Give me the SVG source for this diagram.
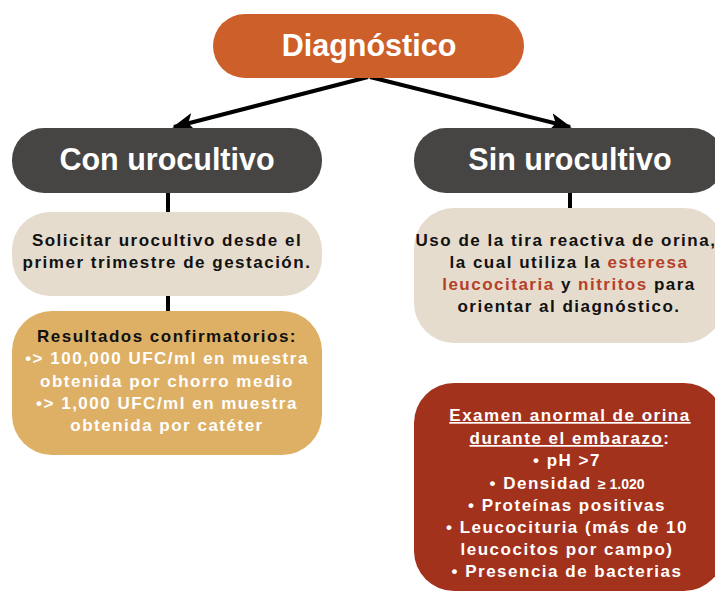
<svg xmlns="http://www.w3.org/2000/svg" width="715" height="593" viewBox="0 0 715 593">
<style>
.t{font-family:"Liberation Sans",Arial,sans-serif;font-weight:bold;text-anchor:middle}
.h{font-size:30.5px;fill:#fff}
.b{font-size:17px;fill:#111;letter-spacing:1.5px}
.w{font-size:17px;fill:#fff;letter-spacing:1.5px}
.r{fill:#b5402a}
.c{stroke:#000;stroke-width:4;fill:none}
</style>
<defs>
<marker id="ah" viewBox="0 0 12 10" refX="11" refY="5" markerWidth="5.5" markerHeight="5" orient="auto" markerUnits="strokeWidth">
<path d="M0,0 L12,5 L0,10 L3,5 Z" fill="#000"/>
</marker>
</defs>
<g id="connectors">
<line class="c" x1="368" y1="77" x2="174" y2="127" marker-end="url(#ah)"/>
<line class="c" x1="370" y1="77" x2="570" y2="127" marker-end="url(#ah)"/>
<line class="c" x1="168" y1="192" x2="168" y2="213"/>
<line class="c" x1="168" y1="295" x2="168" y2="312"/>
<line class="c" x1="570" y1="192" x2="570" y2="209"/>
</g>
<g id="diagnostico">
<rect x="213" y="14" width="311" height="64" rx="32" fill="#cd5f2a"/>
<text class="t h" x="369" y="56">Diagnóstico</text>
</g>
<g id="con">
<rect x="12" y="128" width="310" height="65" rx="32" fill="#474543"/>
<text class="t h" x="167" y="170">Con urocultivo</text>
</g>
<g id="sin">
<rect x="414" y="128" width="310" height="65" rx="32" fill="#474543"/>
<text class="t h" x="570" y="170">Sin urocultivo</text>
</g>
<g id="solicitar">
<rect x="12" y="212" width="310" height="84" rx="38" fill="#e5dccd"/>
<text class="t b" x="167" y="246">Solicitar urocultivo desde el</text>
<text class="t b" x="167" y="268">primer trimestre de gestación.</text>
</g>
<g id="resultados">
<rect x="12" y="311" width="310" height="144" rx="40" fill="#deb065"/>
<text class="t b" x="167" y="342">Resultados confirmatorios:</text>
<text class="t w" x="167" y="364">•&gt; 100,000 UFC/ml en muestra</text>
<text class="t w" x="167" y="387">obtenida por chorro medio</text>
<text class="t w" x="167" y="409">•&gt; 1,000 UFC/ml en muestra</text>
<text class="t w" x="167" y="431">obtenida por catéter</text>
</g>
<g id="uso">
<rect x="414" y="208" width="310" height="135" rx="40" fill="#e5dccd"/>
<text class="t b" x="566" y="246" letter-spacing="1.1">Uso de la tira reactiva de orina,</text>
<text class="t b" x="569" y="268">la cual utiliza la <tspan class="r">esteresa</tspan></text>
<text class="t b" x="569" y="290"><tspan class="r">leucocitaria</tspan> y <tspan class="r">nitritos</tspan> para</text>
<text class="t b" x="569" y="312">orientar al diagnóstico.</text>
</g>
<g id="examen">
<rect x="414" y="383" width="310" height="208" rx="40" fill="#a3321d"/>
<text class="t w" x="570" y="421"><tspan text-decoration="underline">Examen anormal de orina</tspan></text>
<text class="t w" x="570" y="444"><tspan text-decoration="underline">durante el embarazo</tspan>:</text>
<text class="t w" x="567" y="466">• pH &gt;7</text>
<text class="t w" x="567" y="489">• Densidad <tspan font-size="14" letter-spacing="0">≥ 1.020</tspan></text>
<text class="t w" x="567" y="511">• Proteínas positivas</text>
<text class="t w" x="567" y="533">• Leucocituria (más de 10</text>
<text class="t w" x="567" y="555">leucocitos por campo)</text>
<text class="t w" x="567" y="577">• Presencia de bacterias</text>
</g>
</svg>
